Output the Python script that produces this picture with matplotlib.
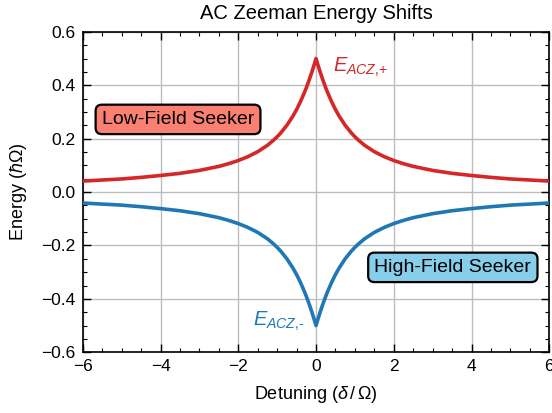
import matplotlib
matplotlib.use("Agg")
import matplotlib.pyplot as plt
from matplotlib.ticker import MultipleLocator

plt.rcParams['font.family'] = ['Liberation Sans', 'DejaVu Sans']
plt.rcParams['mathtext.fontset'] = 'custom'
plt.rcParams['mathtext.rm'] = 'Liberation Sans'
plt.rcParams['mathtext.it'] = 'Liberation Sans:italic'
plt.rcParams['mathtext.bf'] = 'Liberation Sans:bold'

# Detuning (delta / Omega) and energies (one side, curve is symmetric)
det_right = [0, 0.05, 0.1, 0.15, 0.2, 0.25, 0.3, 0.4, 0.5, 0.6, 0.75, 0.9, 1, 1.1, 1.25, 1.5,
             1.75, 2, 2.25, 2.5, 3, 3.5, 4, 4.5, 5, 5.5, 6]
e_right = [0.5, 0.4756, 0.4525, 0.4306, 0.410, 0.3904, 0.372, 0.3385, 0.309, 0.2831, 0.250, 0.2227,
           0.207, 0.1933, 0.175, 0.151, 0.1328, 0.118, 0.1061, 0.096, 0.081, 0.070, 0.062, 0.0549,
           0.049, 0.0451, 0.041]

detuning = [-d for d in det_right[:0:-1]] + det_right
e_plus = e_right[:0:-1] + e_right
e_minus = [-v for v in e_plus]

fig, ax = plt.subplots(figsize=(5.52, 4.13), dpi=100)
fig.subplots_adjust(left=0.15, right=0.995, top=0.923, bottom=0.147)

ax.plot(detuning, e_plus, color='#d62728', lw=2.6, zorder=3)
ax.plot(detuning, e_minus, color='#1f77b4', lw=2.6, zorder=3)

ax.set_xlim(-6, 6)
ax.set_ylim(-0.6, 0.6)
ax.xaxis.set_major_locator(MultipleLocator(2))
ax.xaxis.set_minor_locator(MultipleLocator(0.5))
ax.yaxis.set_major_locator(MultipleLocator(0.2))
ax.yaxis.set_minor_locator(MultipleLocator(0.05))
ax.tick_params(which='both', direction='in', top=True, right=True, labelsize=12.5)
ax.tick_params(which='major', length=6, width=1, pad=5)
ax.tick_params(which='minor', length=3, width=0.8)
ax.grid(True, which='major', color='#bdbdbd', lw=1, zorder=0)
for s in ax.spines.values():
    s.set_linewidth(1.2)

ax.set_title('AC Zeeman Energy Shifts', fontsize=14.5, pad=9)
ax.set_xlabel(r'Detuning ($\delta\,/\,\Omega$)', fontsize=13, labelpad=7)
ax.set_ylabel(r'Energy ($\hbar\Omega$)', fontsize=13, labelpad=9)

ax.text(0.43, 0.465, r'$E_{ACZ{,}{+}}$', color='#d62728', fontsize=14.5, ha='left', va='center')
ax.text(-0.3, -0.485, r'$E_{ACZ{,}\text{-}}$', color='#1f77b4', fontsize=14.5, ha='right', va='center')

ax.text(-3.55, 0.272, 'Low-Field Seeker', fontsize=14, ha='center', va='center', zorder=5,
        bbox=dict(boxstyle='round,pad=0.32', fc='salmon', ec='black', lw=1.6))
ax.text(3.52, -0.282, 'High-Field Seeker', fontsize=14, ha='center', va='center', zorder=5,
        bbox=dict(boxstyle='round,pad=0.32', fc='skyblue', ec='black', lw=1.6))

fig.savefig('out.png', dpi=100)
